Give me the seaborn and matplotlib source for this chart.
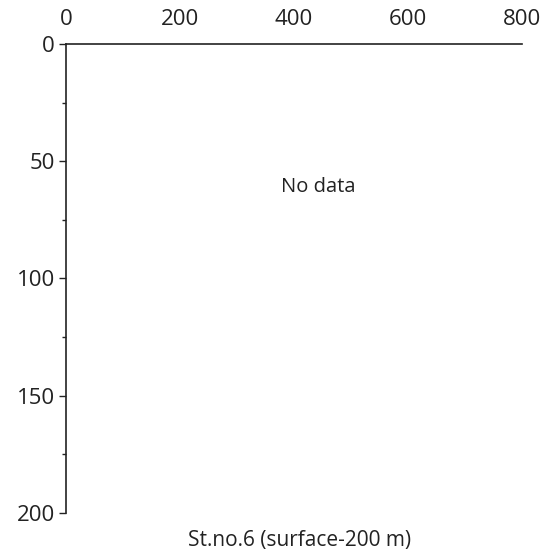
import numpy as np
import matplotlib
matplotlib.use('Agg')
import matplotlib.pyplot as plt
import seaborn as sns

# axis setup
x_range = [0, 800]
y_range = [0, 200]
x_major = [0, 200, 400, 600, 800]
x_minor = [100, 300, 500, 700]
y_major = [0, 50, 100, 150, 200]
y_minor = [25, 75, 125, 175]
note_text = 'No data'
note_pos = [442, 61]
caption = 'St.no.6 (surface-200 m)'

sns.set_style('ticks')
plt.rcParams['font.family'] = ['Open Sans', 'DejaVu Sans']

fig = plt.figure(figsize=(5.53, 5.55), dpi=100)
ax = fig.add_axes([0.119, 0.0757, 0.825, 0.845])

ax.set_xlim(x_range)
ax.set_ylim(y_range[1], y_range[0])
ax.xaxis.tick_top()
ax.set_xticks(x_major)
ax.set_xticks(x_minor, minor=True)
ax.set_yticks(y_major)
ax.set_yticks(y_minor, minor=True)

sns.despine(ax=ax, right=True, bottom=True, top=False, left=False)
for s in ['top', 'left']:
    ax.spines[s].set_linewidth(1.2)
    ax.spines[s].set_color('#222222')

ax.tick_params(axis='both', which='major', length=5, width=1, direction='out',
               labelsize=16, colors='#222222')
ax.tick_params(axis='x', which='major', pad=5)
ax.tick_params(axis='y', which='major', pad=3)
ax.tick_params(axis='both', which='minor', length=3, width=1, direction='out',
               colors='#222222')

ax.text(note_pos[0], note_pos[1], note_text, ha='center', va='center',
        fontsize=14.5, color='#222222')
fig.text(0.541, 0.027, caption, ha='center', va='center', fontsize=15,
         color='#222222')

fig.savefig('out.png', dpi=100)
